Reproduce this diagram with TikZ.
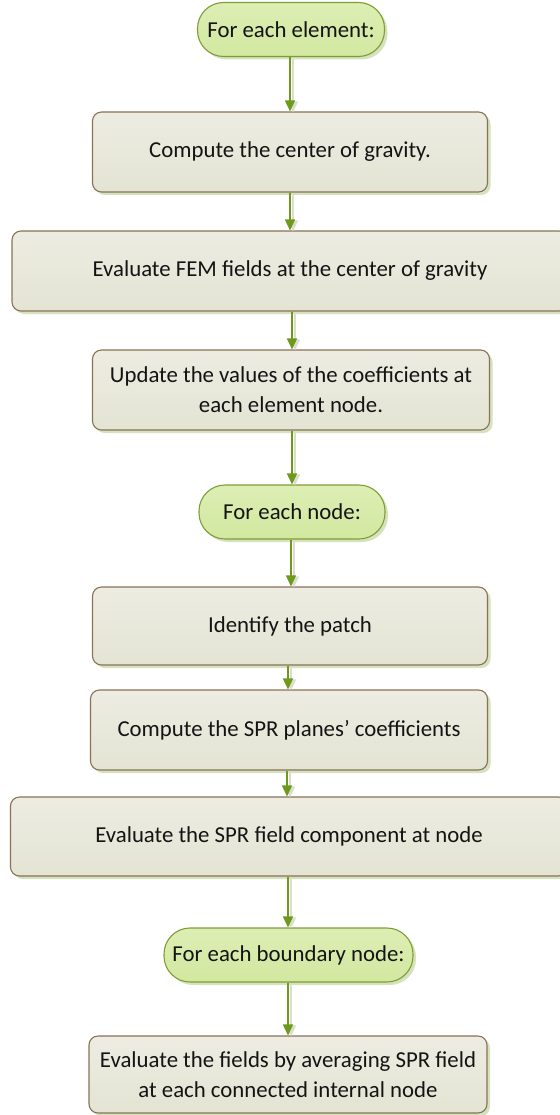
\documentclass[tikz,border=0pt]{standalone}
\usepackage{fontspec}
\setmainfont{Carlito}
\usetikzlibrary{arrows.meta,shadows}

\definecolor{boxfill}{HTML}{E4E4D4}
\definecolor{boxtop}{HTML}{ECECE2}
\definecolor{boxline}{HTML}{8A7254}
\definecolor{boxshadow}{HTML}{D6E2BF}
\definecolor{pillfill}{HTML}{D2E8A0}
\definecolor{pilltop}{HTML}{DDEEB4}
\definecolor{pillline}{HTML}{7E9E34}
\definecolor{arrowgreen}{HTML}{6E9A1C}
\definecolor{arrowshade}{HTML}{D9DECF}

\tikzset{
  x=1pt, y=-1pt,
  every node/.style={font=\fontsize{22.8}{30}\selectfont, text=black!92},
  stepbox/.style={draw=boxline, line width=1.1pt, rounded corners=9pt,
    top color=boxtop, bottom color=boxfill, align=center,
    drop shadow={shadow xshift=3pt, shadow yshift=-3pt, fill=boxshadow, opacity=1}},
  loopbox/.style={draw=pillline, line width=1.1pt, rounded corners=26pt,
    top color=pilltop, bottom color=pillfill, align=center,
    minimum height=54pt,
    drop shadow={shadow xshift=3pt, shadow yshift=-3pt, fill=boxshadow, opacity=1}},
  flow/.style={draw=arrowgreen, line width=1.5pt,
    -{Triangle[width=10pt,length=11pt]},
    preaction={draw=arrowshade, line width=1.5pt,
      -{Triangle[width=10pt,length=11pt]},
      transform canvas={xshift=3pt, yshift=-1pt}}},
}

\begin{document}
\begin{tikzpicture}
\useasboundingbox (0,0) rectangle (559,1115);

\node[loopbox, minimum width=187pt] (elem) at (291,29.5) {For each element:};
\node[stepbox, minimum width=395pt, minimum height=80pt] (grav) at (290,152)
  {Compute the center of gravity.};
\node[stepbox, minimum width=556pt, minimum height=80pt] (fem) at (290,271)
  {Evaluate FEM fields at the center of gravity};
\node[stepbox, minimum width=397pt, minimum height=80pt] (coef) at (291,390)
  {Update the values of the coefficients at\\each element node.};
\node[loopbox, minimum width=186pt] (node) at (292,512) {For each node:};
\node[stepbox, minimum width=395pt, minimum height=78pt] (patch) at (290,626)
  {Identify the patch};
\node[stepbox, minimum width=397pt, minimum height=80pt] (plane) at (289,730)
  {Compute the SPR planes’ coefficients};
\node[stepbox, minimum width=557pt, minimum height=79pt] (spr) at (289,836.5)
  {Evaluate the SPR field component at node};
\node[loopbox, minimum width=249pt] (bnd) at (288.5,955) {For each boundary node:};
\node[stepbox, minimum width=398pt, minimum height=77pt] (avg) at (288,1074.5)
  {Evaluate the fields by averaging SPR field\\at each connected internal node};

\draw[flow] (elem.south -| 290,0) -- (grav.north -| 290,0);
\draw[flow] (grav.south -| 290,0) -- (fem.north -| 290,0);
\draw[flow] (fem.south -| 292,0) -- (coef.north -| 292,0);
\draw[flow] (coef.south -| 292,0) -- (node.north -| 292,0);
\draw[flow] (node.south -| 291,0) -- (patch.north -| 291,0);
\draw[flow] (patch.south -| 288,0) -- (plane.north -| 288,0);
\draw[flow] (plane.south -| 287,0) -- (spr.north -| 287,0);
\draw[flow] (spr.south -| 288,0) -- (bnd.north -| 288,0);
\draw[flow] (bnd.south -| 288,0) -- (avg.north -| 288,0);
\end{tikzpicture}
\end{document}
